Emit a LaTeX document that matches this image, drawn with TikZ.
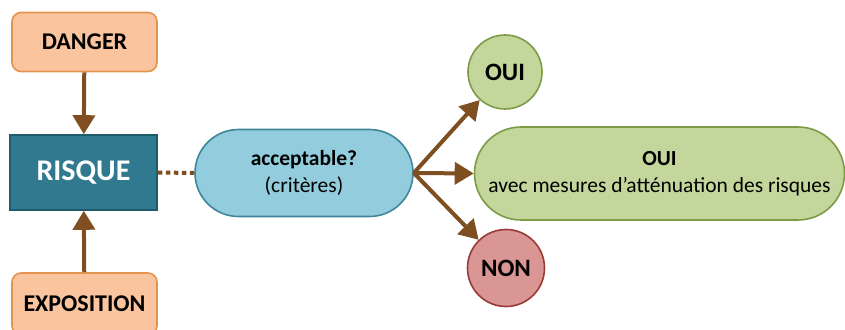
\documentclass[tikz,border=0pt]{standalone}
\usepackage{fontspec}
\setmainfont{Carlito}
\usetikzlibrary{arrows.meta,shapes.misc}
\definecolor{orfill}{HTML}{F9C49E}
\definecolor{ordraw}{HTML}{E3954F}
\definecolor{tealfill}{HTML}{31798F}
\definecolor{tealdraw}{HTML}{205B6C}
\definecolor{bluefill}{HTML}{93CDDD}
\definecolor{bluedraw}{HTML}{3E8599}
\definecolor{grfill}{HTML}{C3D69B}
\definecolor{grdraw}{HTML}{7D9A45}
\definecolor{redfill}{HTML}{D99694}
\definecolor{reddraw}{HTML}{9A3B38}
\definecolor{arr}{HTML}{7F4F22}
\begin{document}
\begin{tikzpicture}[x=1pt,y=1pt,
  orbox/.style={draw=ordraw,fill=orfill,line width=1.6pt,rounded corners=9pt,minimum width=145pt,minimum height=59pt,font=\fontsize{24}{26}\selectfont\bfseries,text=black},
  risk/.style={draw=tealdraw,fill=tealfill,line width=1.6pt,minimum width=147pt,minimum height=75pt,font=\fontsize{30}{32}\selectfont\bfseries,text=white},
  pill/.style={rounded rectangle,line width=1.6pt,inner sep=0pt,align=center,font=\fontsize{21.5}{27}\selectfont},
  circ/.style={circle,line width=1.6pt,minimum size=74pt,inner sep=0pt,font=\fontsize{25}{27}\selectfont\bfseries},
  conn/.style={draw=arr,line width=4pt,-{Triangle[length=19pt,width=22pt]}}]
\useasboundingbox (0,0) rectangle (845,329);
\node[orbox] (danger) at (84.5,287) {DANGER};
\node[risk] (risque) at (83.5,156.5) {RISQUE};
\node[orbox,minimum height=62pt] (expo) at (84.5,25) {EXPOSITION};
\node[pill,draw=bluedraw,fill=bluefill,minimum width=218pt,minimum height=87pt] (acc) at (304,156) {\textbf{acceptable?}\\(critères)};
\node[circ,draw=grdraw,fill=grfill] (oui1) at (505,257) {OUI};
\node[pill,draw=grdraw,fill=grfill,minimum width=370pt,minimum height=93pt] (oui2) at (659.5,155.5) {\textbf{OUI}\\avec mesures d’atténuation des risques};
\node[circ,draw=reddraw,fill=redfill,minimum size=77pt] (non) at (506,61) {NON};
\coordinate (src) at (acc.east);
\draw[conn] (danger) -- (risque);
\draw[conn] (expo) -- (risque);
\draw[draw=arr,line width=4pt,dash pattern=on 4.5pt off 3.5pt] (risque.east) -- (acc.west);
\draw[conn] (src) -- (oui1);
\draw[conn] (src) -- (oui2.west);
\draw[conn] (src) -- (non);
\end{tikzpicture}
\end{document}
